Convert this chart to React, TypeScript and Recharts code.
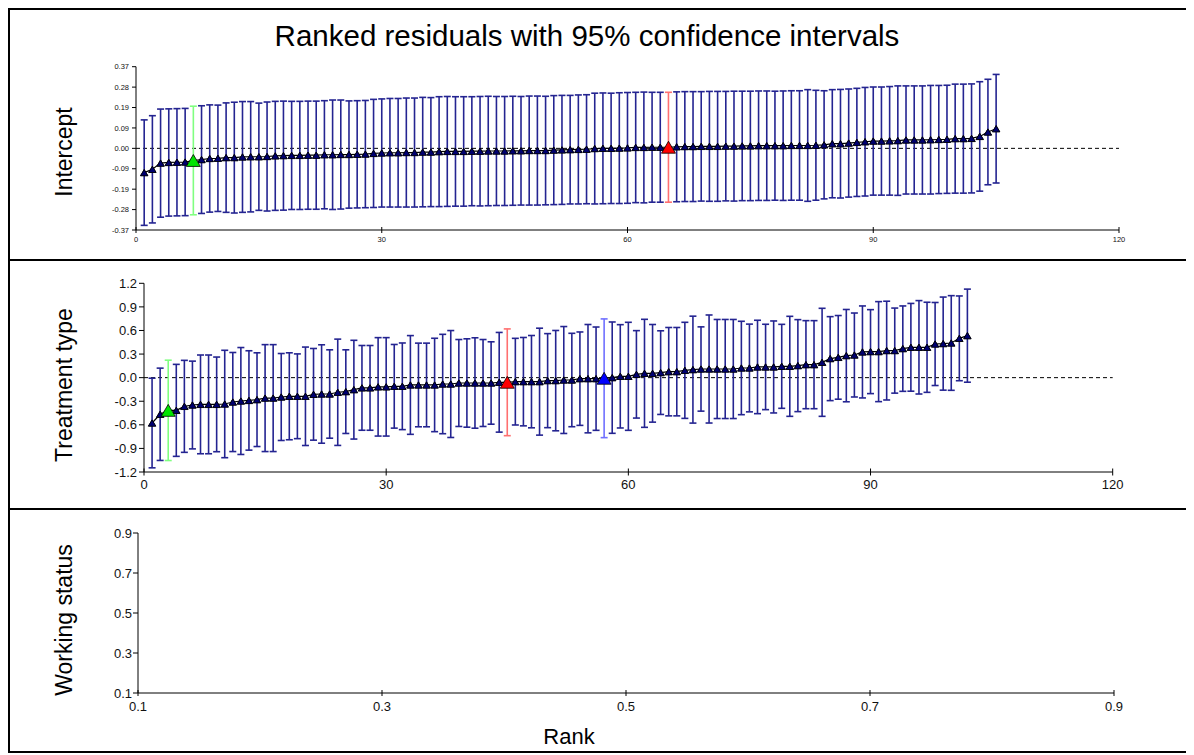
import React from 'react'
import { ComposedChart, Scatter, Line, XAxis, YAxis, ErrorBar, ReferenceLine } from 'recharts'

// ranked residual estimates and 95% CI half widths
const interceptEst = [
  -0.110, -0.095, -0.067, -0.064, -0.063, -0.062, -0.055, -0.051, -0.046, -0.045,
  -0.042, -0.042, -0.039, -0.038, -0.038, -0.037, -0.034, -0.033, -0.032, -0.032,
  -0.031, -0.031, -0.029, -0.029, -0.028, -0.028, -0.027, -0.026, -0.023, -0.021,
  -0.020, -0.020, -0.019, -0.019, -0.017, -0.017, -0.015, -0.014, -0.014, -0.014,
  -0.013, -0.013, -0.012, -0.012, -0.012, -0.011, -0.011, -0.010, -0.010, -0.010,
  -0.008, -0.007, -0.006, -0.005, -0.004, -0.001, 0.000, 0.000, 0.001, 0.002,
  0.004, 0.004, 0.005, 0.005, 0.005, 0.007, 0.008, 0.008, 0.009, 0.009,
  0.009, 0.010, 0.010, 0.011, 0.011, 0.012, 0.012, 0.012, 0.012, 0.013,
  0.013, 0.013, 0.014, 0.016, 0.021, 0.021, 0.024, 0.027, 0.030, 0.033,
  0.033, 0.034, 0.035, 0.038, 0.038, 0.038, 0.039, 0.040, 0.041, 0.044,
  0.044, 0.045, 0.054, 0.074, 0.089,
]
const interceptHalf = [
  0.239, 0.243, 0.245, 0.243, 0.243, 0.243, 0.246, 0.244, 0.243, 0.241,
  0.248, 0.251, 0.251, 0.250, 0.243, 0.247, 0.247, 0.247, 0.245, 0.245,
  0.245, 0.245, 0.245, 0.248, 0.247, 0.243, 0.243, 0.243, 0.245, 0.245,
  0.246, 0.246, 0.247, 0.247, 0.248, 0.247, 0.249, 0.249, 0.248, 0.248,
  0.247, 0.248, 0.248, 0.247, 0.247, 0.247, 0.246, 0.247, 0.247, 0.246,
  0.247, 0.247, 0.246, 0.247, 0.247, 0.251, 0.251, 0.250, 0.251, 0.251,
  0.250, 0.251, 0.249, 0.249, 0.249, 0.249, 0.249, 0.249, 0.248, 0.249,
  0.249, 0.248, 0.249, 0.248, 0.248, 0.248, 0.248, 0.247, 0.248, 0.248,
  0.248, 0.253, 0.249, 0.245, 0.245, 0.246, 0.245, 0.245, 0.246, 0.245,
  0.245, 0.246, 0.248, 0.245, 0.245, 0.245, 0.246, 0.245, 0.245, 0.247,
  0.247, 0.247, 0.248, 0.239, 0.246,
]

const treatmentEst = [
  -0.577, -0.466, -0.416, -0.416, -0.365, -0.348, -0.340, -0.340, -0.340, -0.335,
  -0.310, -0.297, -0.290, -0.280, -0.260, -0.260, -0.246, -0.237, -0.237, -0.237,
  -0.212, -0.208, -0.208, -0.186, -0.178, -0.153, -0.130, -0.130, -0.117, -0.117,
  -0.110, -0.110, -0.093, -0.093, -0.093, -0.093, -0.081, -0.081, -0.068, -0.068,
  -0.068, -0.068, -0.068, -0.059, -0.059, -0.051, -0.051, -0.051, -0.051, -0.038,
  -0.038, -0.030, -0.030, -0.013, -0.013, -0.013, -0.008, 0.000, 0.017, 0.017,
  0.042, 0.055, 0.055, 0.064, 0.076, 0.076, 0.093, 0.102, 0.110, 0.110,
  0.110, 0.110, 0.110, 0.123, 0.123, 0.136, 0.136, 0.136, 0.144, 0.144,
  0.153, 0.165, 0.165, 0.195, 0.242, 0.258, 0.280, 0.288, 0.327, 0.331,
  0.331, 0.344, 0.344, 0.369, 0.386, 0.386, 0.386, 0.428, 0.433, 0.441,
  0.500, 0.534,
]
const treatmentHalf = [
  0.570, 0.587, 0.638, 0.585, 0.585, 0.558, 0.628, 0.628, 0.602, 0.683,
  0.630, 0.680, 0.632, 0.596, 0.680, 0.680, 0.553, 0.553, 0.539, 0.626,
  0.583, 0.626, 0.562, 0.676, 0.532, 0.628, 0.539, 0.539, 0.626, 0.626,
  0.532, 0.551, 0.628, 0.532, 0.532, 0.594, 0.632, 0.680, 0.553, 0.562,
  0.575, 0.553, 0.524, 0.634, 0.679, 0.551, 0.562, 0.587, 0.680, 0.598,
  0.638, 0.680, 0.594, 0.594, 0.689, 0.657, 0.755, 0.708, 0.657, 0.687,
  0.556, 0.687, 0.621, 0.532, 0.562, 0.562, 0.611, 0.680, 0.536, 0.687,
  0.630, 0.630, 0.630, 0.594, 0.558, 0.594, 0.543, 0.585, 0.534, 0.636,
  0.585, 0.560, 0.560, 0.687, 0.534, 0.532, 0.587, 0.534, 0.585, 0.534,
  0.636, 0.628, 0.541, 0.543, 0.558, 0.594, 0.573, 0.528, 0.592, 0.602,
  0.539, 0.592,
]

// working status panel is empty in the source
const workingEst: number[] = []
const workingHalf: number[] = []

const rankTicks = [0, 30, 60, 90, 120]
const interceptTicks = [-0.37, -0.2775, -0.185, -0.0925, 0, 0.0925, 0.185, 0.2775, 0.37]
const interceptTickLabels = ['-0.37', '-0.28', '-0.19', '-0.09', '0.00', '0.09', '0.19', '0.28', '0.37']
const treatmentTicks = [-1.2, -0.9, -0.6, -0.3, 0, 0.3, 0.6, 0.9, 1.2]
const workingTicks = [0.1, 0.3, 0.5, 0.7, 0.9]

const interceptMarked = [
  { rank: 7, fill: '#00e400', bar: '#80ff80' },
  { rank: 65, fill: '#ff0000', bar: '#ff7070' },
]
const treatmentMarked = [
  { rank: 3, fill: '#00e400', bar: '#80ff80' },
  { rank: 45, fill: '#ff0000', bar: '#ff7070' },
  { rank: 57, fill: '#0000ff', bar: '#7070ff' },
]

const FONT = '"Liberation Sans", Arial, sans-serif'
const BAR = '#242491'

type Row = { rank: number; est: number; half: number }
type Mark = { rank: number; fill: string; bar: string }

const toRows = (est: number[], half: number[]): Row[] =>
  est.map((v, i) => ({ rank: i + 1, est: v, half: half[i] }))

const triangle = (w: number, fill: string) => (props: any) => {
  const { cx, cy } = props
  if (cx == null || cy == null) return <g />
  const h = w * 0.85
  return (
    <polygon
      points={`${cx - w / 2},${cy + h / 2} ${cx + w / 2},${cy + h / 2} ${cx},${cy - h / 2}`}
      fill={fill}
      stroke="#000"
      strokeWidth={0.8}
    />
  )
}

interface PanelProps {
  rows: Row[]
  marked: Mark[]
  width: number
  height: number
  margin: { top: number; right: number; bottom: number; left: number }
  xDomain: [number, number]
  xTicks: number[]
  yDomain: [number, number]
  yTicks: number[]
  yFormat: (v: number) => string
  xFormat: (v: number) => string
  fontSize: number
  yTick: [number, number]
  xTick: [number, number]
  zeroLine: boolean
}

function Panel(p: PanelProps) {
  const markedRanks = p.marked.map((m) => m.rank)
  const base = p.rows.filter((r) => !markedRanks.includes(r.rank))
  const tickStyle = { fontSize: p.fontSize, fill: '#111', fontFamily: FONT }
  return (
    <ComposedChart width={p.width} height={p.height} data={p.rows} margin={p.margin}>
      <XAxis
        type="number"
        dataKey="rank"
        domain={p.xDomain}
        ticks={p.xTicks}
        interval={0}
        allowDataOverflow
        stroke="#000"
        height={20}
        tick={tickStyle}
        tickSize={p.xTick[0]}
        tickMargin={p.xTick[1]}
        tickLine={{ stroke: '#000', transform: `translate(0,${-p.xTick[0] / 2})` }}
        tickFormatter={p.xFormat}
      />
      <YAxis
        type="number"
        dataKey="est"
        domain={p.yDomain}
        ticks={p.yTicks}
        interval={0}
        allowDataOverflow
        stroke="#000"
        width={40}
        tick={tickStyle}
        tickSize={p.yTick[0]}
        tickMargin={p.yTick[1]}
        tickFormatter={p.yFormat}
      />
      {p.zeroLine && <ReferenceLine y={0} stroke="#000" strokeDasharray="4 3" />}
      <Scatter data={base} dataKey="est" shape={triangle(7, '#000070')} isAnimationActive={false}>
        <ErrorBar dataKey="half" direction="y" width={3.5} stroke={BAR} strokeWidth={1.6} isAnimationActive={false} />
      </Scatter>
      <Line
        type="linear"
        dataKey="est"
        stroke="#000"
        strokeWidth={1.2}
        dot={false}
        activeDot={false}
        isAnimationActive={false}
      />
      <Scatter data={base} dataKey="est" shape={triangle(7.5, '#000070')} isAnimationActive={false} />
      {p.marked.map((m) => (
        <Scatter
          key={m.rank}
          data={p.rows.filter((r) => r.rank === m.rank)}
          dataKey="est"
          shape={triangle(14, m.fill)}
          isAnimationActive={false}
        >
          <ErrorBar dataKey="half" direction="y" width={3.5} stroke={m.bar} strokeWidth={1.6} isAnimationActive={false} />
        </Scatter>
      ))}
    </ComposedChart>
  )
}

function AxisTitle({ text, cx, cy }: { text: string; cx: number; cy: number }) {
  return (
    <div
      style={{
        position: 'absolute',
        left: cx - 110,
        top: cy - 15,
        width: 220,
        height: 30,
        lineHeight: '30px',
        textAlign: 'center',
        transform: 'rotate(-90deg)',
        fontFamily: FONT,
        fontSize: 23,
        color: '#000',
        whiteSpace: 'nowrap',
      }}
    >
      {text}
    </div>
  )
}

export default function App() {
  const interceptRows = toRows(interceptEst, interceptHalf)
  const treatmentRows = toRows(treatmentEst, treatmentHalf)
  const workingRows = toRows(workingEst, workingHalf)
  const interceptLabel = (v: number) => {
    let best = 0
    interceptTicks.forEach((t, i) => {
      if (Math.abs(t - v) < Math.abs(interceptTicks[best] - v)) best = i
    })
    return interceptTickLabels[best]
  }
  const line: React.CSSProperties = { position: 'absolute', left: 0, width: 1184, height: 2, background: '#000' }

  return (
    <div style={{ position: 'relative', width: 1184, height: 745, background: '#fff', fontFamily: FONT }}>
      <div
        style={{
          position: 'absolute',
          left: 0,
          top: 0,
          width: 1184,
          height: 745,
          border: '2px solid #000',
          boxSizing: 'border-box',
        }}
      />
      <div style={{ ...line, top: 251 }} />
      <div style={{ ...line, top: 500 }} />

      <div
        style={{
          position: 'absolute',
          left: 179,
          top: 13,
          width: 800,
          textAlign: 'center',
          fontSize: 29.5,
          lineHeight: '29.5px',
          color: '#000',
          whiteSpace: 'nowrap',
        }}
      >
        Ranked residuals with 95% confidence intervals
      </div>

      <div style={{ position: 'absolute', left: 2, top: 2 }}>
        <Panel
          rows={interceptRows}
          marked={interceptMarked}
          width={1180}
          height={249}
          margin={{ top: 56.7, right: 71, bottom: 9, left: 86 }}
          xDomain={[0, 120]}
          xTicks={rankTicks}
          yDomain={[-0.37, 0.37]}
          yTicks={interceptTicks}
          yFormat={interceptLabel}
          xFormat={(v) => String(v)}
          fontSize={7.5}
          yTick={[4, 3]}
          xTick={[6, 1]}
          zeroLine
        />
      </div>

      <div style={{ position: 'absolute', left: 2, top: 253 }}>
        <Panel
          rows={treatmentRows}
          marked={treatmentMarked}
          width={1180}
          height={247}
          margin={{ top: 22.3, right: 77.3, bottom: 16, left: 94 }}
          xDomain={[0, 120]}
          xTicks={rankTicks}
          yDomain={[-1.2, 1.2]}
          yTicks={treatmentTicks}
          yFormat={(v) => v.toFixed(1)}
          xFormat={(v) => String(v)}
          fontSize={13}
          yTick={[5, 2]}
          xTick={[7, 1]}
          zeroLine
        />
      </div>

      <div style={{ position: 'absolute', left: 2, top: 502 }}>
        <Panel
          rows={workingRows}
          marked={[]}
          width={1180}
          height={241}
          margin={{ top: 23, right: 76, bottom: 38, left: 88 }}
          xDomain={[0.1, 0.9]}
          xTicks={workingTicks}
          yDomain={[0.1, 0.9]}
          yTicks={workingTicks}
          yFormat={(v) => v.toFixed(1)}
          xFormat={(v) => v.toFixed(1)}
          fontSize={13}
          yTick={[5, 1]}
          xTick={[6, 3]}
          zeroLine={false}
        />
      </div>

      <AxisTitle text="Intercept" cx={56} cy={144} />
      <AxisTitle text="Treatment type" cx={56} cy={377} />
      <AxisTitle text="Working status" cx={56} cy={612} />

      <div
        style={{
          position: 'absolute',
          left: 461,
          top: 718.4,
          width: 200,
          textAlign: 'center',
          fontSize: 22,
          lineHeight: '22px',
          color: '#000',
        }}
      >
        Rank
      </div>
    </div>
  )
}
